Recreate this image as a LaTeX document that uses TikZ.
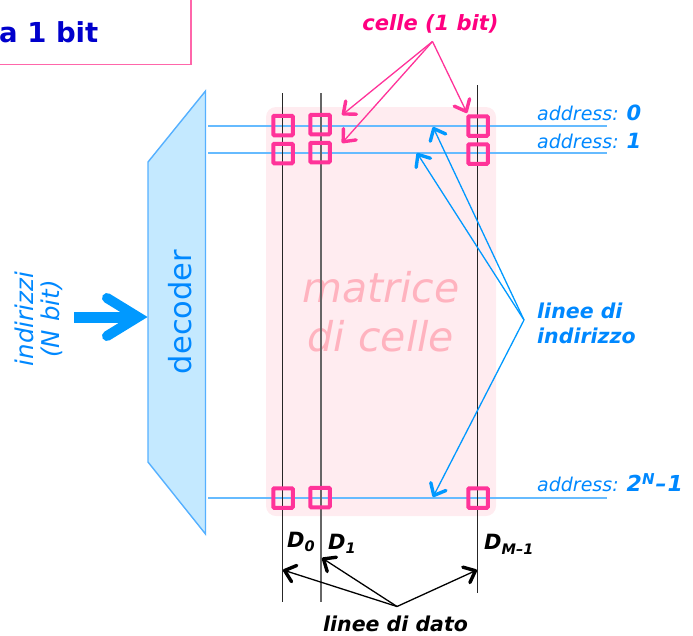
\documentclass[tikz,border=0pt]{standalone}
\usepackage{fontspec}
\setmainfont{DejaVu Sans}
\usetikzlibrary{arrows.meta}
\definecolor{cellpink}{HTML}{FF3399}
\definecolor{textpink}{HTML}{FF0080}
\definecolor{matrixbg}{HTML}{FFECF0}
\definecolor{matrixtxt}{HTML}{FFB3BF}
\definecolor{decfill}{HTML}{C4E9FF}
\definecolor{decline}{HTML}{55B0FF}
\definecolor{addrline}{HTML}{66BBFF}
\definecolor{bluetxt}{HTML}{0088FF}
\definecolor{arrowblue}{HTML}{0099FF}
\definecolor{titleblue}{HTML}{0000CC}
\definecolor{boxpink}{HTML}{FF66AA}
\newcommand{\fsz}[1]{\fontsize{#1}{#1}\selectfont}
\tikzset{
  x=1pt,y=-1pt,
  barb/.style={-{Straight Barb[length=10pt,width=17pt,line width=3.4pt,round]},line width=#1},
  barb/.default=1.3pt,
  cell/.style={draw=cellpink,line width=4pt,rounded corners=1pt,minimum size=19.5pt,inner sep=0pt},
  dataline/.style={black!85,line width=1.2pt},
  addrl/.style={addrline,line width=1.7pt},
  lab/.style={inner sep=0pt,anchor=base west},
  addrtxt/.style={lab,text=bluetxt,font=\fsz{19}\itshape},
  dtxt/.style={inner sep=0pt,anchor=base west,font=\fsz{21}\bfseries\itshape},
  bigtxt/.style={inner sep=0pt,text=bluetxt,font=\fsz{24.5}\itshape,align=center},
}
\begin{document}
\begin{tikzpicture}
\useasboundingbox (0,0) rectangle (693,635);
% matrix
\node[fill=matrixbg,rounded corners=10pt,minimum width=230pt,minimum height=409pt,inner sep=0pt] (matrix) at (381,311.5) {};
\node[inner sep=0pt,text=matrixtxt,font=\fsz{41}\itshape,align=center] (mtxt) at (381,312) {matrice\\[8pt]di celle};
% title box
\coordinate (tl) at (0,64.5); \coordinate (tc) at (191,64.5); \coordinate (tr) at (191,0);
\draw[boxpink,line width=1.4pt] (tl) -- (tc) -- (tr);
\node[inner sep=0pt,anchor=base west,text=titleblue,font=\fsz{27.5}\bfseries] (title) at (-1,42.5) {a 1 bit};
% decoder
\draw[fill=decfill,draw=decline,line width=1.4pt] (205.5,91) coordinate (d1) -- (148,162) -- (148,462) -- (205.5,534) -- cycle;
\node[rotate=90,inner sep=0pt,text=bluetxt,font=\fsz{30.5}] (dec) at (180,312) {decoder};
% address lines
\foreach \n/\y in {a/126,b/153,c/498}{
  \coordinate (\n L) at (208,\y); \coordinate (\n R) at (607,\y);
  \draw[addrl] (\n L) -- (\n R);
}
% data lines
\coordinate (d0t) at (282.5,93); \coordinate (d0b) at (282.5,602);
\coordinate (d1t) at (321,93);   \coordinate (d1b) at (321,602);
\coordinate (d2t) at (477.5,85); \coordinate (d2b) at (477.5,593);
\draw[dataline] (d0t) -- (d0b);
\draw[dataline,black!60] (d1t) -- (d1b);
\draw[dataline] (d2t) -- (d2b);
% cells
\node[cell] (c00) at (283,125.5) {};
\node[cell] (c01) at (320,124.5) {};
\node[cell] (c02) at (478,126) {};
\node[cell] (c10) at (283,153.5) {};
\node[cell] (c11) at (320,152.5) {};
\node[cell] (c12) at (478,154) {};
\node[cell] (c20) at (283,498) {};
\node[cell] (c21) at (320,497.5) {};
\node[cell] (c22) at (478,498) {};
% cell label and arrows
\node[inner sep=0pt,text=textpink,font=\fsz{21}\bfseries\itshape] (celle) at (430.5,24) {celle (1 bit)};
\coordinate (cs) at (432.5,41.5);
\coordinate (p1) at (342,115); \coordinate (p2) at (342,143); \coordinate (p3) at (467,113);
\draw[barb,cellpink] (cs) -- (p1);
\draw[barb,cellpink] (cs) -- (p2);
\draw[barb,cellpink] (cs) -- (p3);
% addresses
\node[addrtxt] (ad0) at (537,120) {address: {\fsz{21}\bfseries 0}};
\node[addrtxt] (ad1) at (537,148) {address: {\fsz{21}\bfseries 1}};
\node[addrtxt] (ad2) at (537,491) {address: {\fsz{22}\bfseries 2\raisebox{7pt}{\fsz{15}N}\kern1pt–\kern1pt1}};
% address line label
\node[lab,text=bluetxt,font=\fsz{20.5}\bfseries\itshape,align=left,anchor=west] (linee) at (537,323.5) {linee di\\[4pt]indirizzo};
\coordinate (bs) at (524,320);
\coordinate (b1) at (433,127); \coordinate (b2) at (417,153); \coordinate (b3) at (433,497);
\draw[barb,arrowblue] (bs) -- (b1);
\draw[barb,arrowblue] (bs) -- (b2);
\draw[barb,arrowblue] (bs) -- (b3);
% input
\node[rotate=90,bigtxt] (ind) at (39,319) {indirizzi\\[2pt](N bit)};
\coordinate (is) at (74,317); \coordinate (ie) at (138,317);
\coordinate (iu) at (107,298); \coordinate (id) at (107,336);
\draw[arrowblue,line width=11pt] (is) -- (ie);
\draw[arrowblue,line width=10pt,line cap=round,miter limit=10] (iu) -- (ie) -- (id);
% data labels
\node[dtxt] (D0) at (287,547) {D\raisebox{-4pt}{\fsz{14.5}0}};
\node[dtxt] (D1) at (328,549) {D\raisebox{-4pt}{\fsz{14.5}1}};
\node[dtxt] (DM) at (484,549) {D\raisebox{-5pt}{\fsz{14.5}M–1}};
\node[inner sep=0pt,font=\fsz{20.5}\bfseries\itshape] (ldato) at (395.5,623.5) {linee di dato};
\coordinate (ks) at (397,606.5);
\coordinate (k1) at (283,570); \coordinate (k2) at (322,558); \coordinate (k3) at (477,570);
\draw[barb,black] (ks) -- (k1);
\draw[barb,black] (ks) -- (k2);
\draw[barb,black] (ks) -- (k3);
\end{tikzpicture}
\end{document}
